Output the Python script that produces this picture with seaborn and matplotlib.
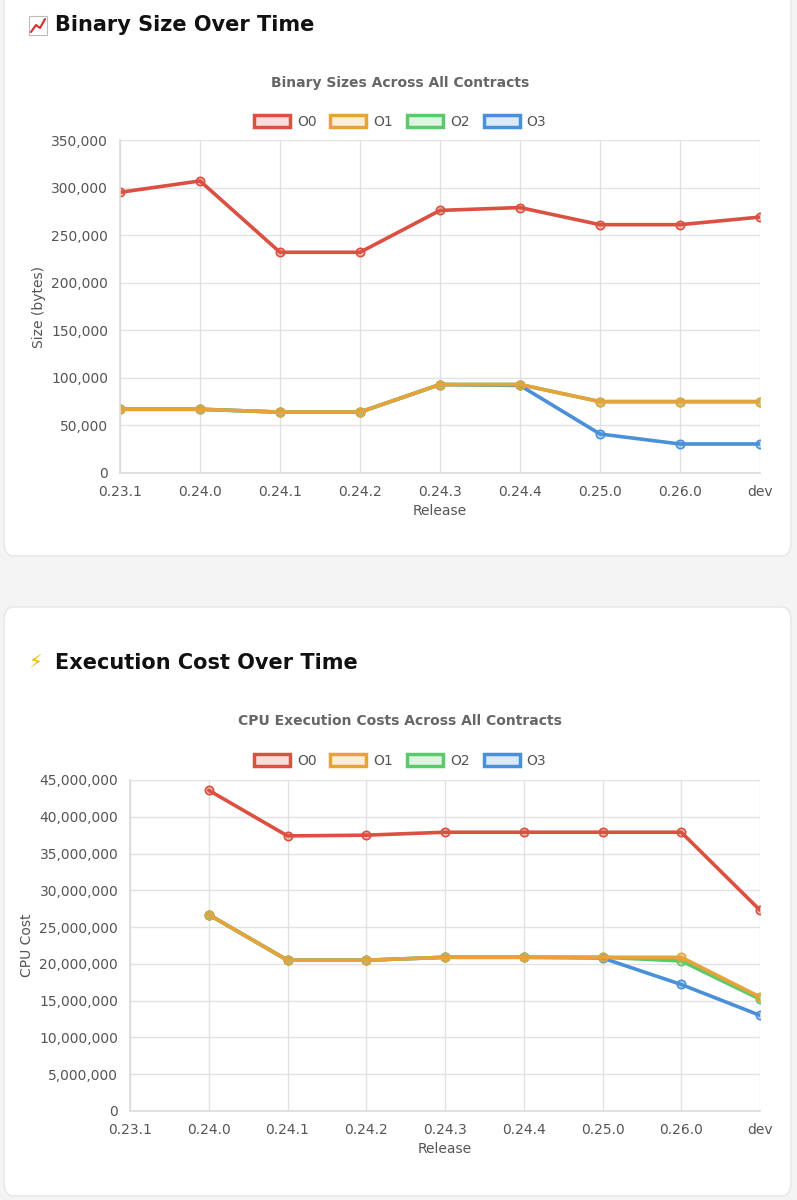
import matplotlib
matplotlib.use("Agg")
import matplotlib.pyplot as plt
import seaborn as sns
import pandas as pd
import numpy as np
from matplotlib.patches import FancyBboxPatch, Patch, Rectangle
from matplotlib.lines import Line2D
from matplotlib.ticker import FuncFormatter, MultipleLocator

releases = ["0.23.1", "0.24.0", "0.24.1", "0.24.2", "0.24.3", "0.24.4", "0.25.0", "0.26.0", "dev"]
levels = ["O0", "O1", "O2", "O3"]
size_O0 = [295000, 307000, 232000, 232000, 276000, 279000, 261000, 261000, 269000]
size_O1 = [67000, 67000, 64000, 64000, 93000, 93000, 75000, 75000, 75000]
size_O2 = [67000, 67000, 64000, 64000, 93000, 93000, 75000, 75000, 75000]
size_O3 = [67000, 67000, 64000, 64000, 93000, 92000, 41000, 30500, 30500]
cpu_O0 = [np.nan, 43600000, 37400000, 37500000, 37900000, 37900000, 37900000, 37900000, 27300000]
cpu_O1 = [np.nan, 26700000, 20500000, 20500000, 20900000, 20900000, 20900000, 20900000, 15500000]
cpu_O2 = [np.nan, 26700000, 20500000, 20500000, 20900000, 20900000, 20900000, 20400000, 15200000]
cpu_O3 = [np.nan, 26700000, 20500000, 20500000, 20900000, 20900000, 20800000, 17200000, 13000000]
colors = {"O0": "#db5040", "O1": "#e8a23a", "O2": "#5cc96a", "O3": "#4a90d9"}

sns.set_theme(style="whitegrid")
plt.rcParams["font.family"] = ["DejaVu Sans"]
W, H = 797, 1200
fig = plt.figure(figsize=(W/100, H/100), dpi=100)
fig.patch.set_facecolor("#f4f4f4")

def card(y0, y1):
    p = FancyBboxPatch((4/W, 1-y1/H), (W-10)/W, (y1-y0)/H,
                       boxstyle="round,pad=0,rounding_size=0.012",
                       transform=fig.transFigure, facecolor="white", edgecolor="#e6e6e6", lw=1, zorder=-10)
    fig.patches.append(p)
card(-20, 556)
card(607, 1196)

# chart-up icon drawn as shapes (emoji glyph not available in installed fonts)
fig.patches.append(Rectangle((29/W, 1-35/H), 18/W, 19/H, transform=fig.transFigure,
                             facecolor="white", edgecolor="#bbb", lw=0.8, zorder=1))
fig.lines.append(Line2D([31/W, 36/W, 40/W, 45/W], [1-32/H, 1-25/H, 1-28/H, 1-19/H],
                        transform=fig.transFigure, color="#d03030", lw=1.5, zorder=2))
fig.text(55/W, 1-25/H, "Binary Size Over Time", fontsize=15, fontweight="bold", va="center", color="#111")
fig.text(28/W, 1-663/H, "⚡", fontsize=14, va="center", color="#f0b400", family=["DejaVu Sans"])
fig.text(55/W, 1-663/H, "Execution Cost Over Time", fontsize=15, fontweight="bold", va="center", color="#111")

def make(ax_box, series, title, ylabel, ymax, step, title_y, leg_y):
    l, t, r, b = ax_box
    ax = fig.add_axes([l/W, 1-b/H, (r-l)/W, (b-t)/H])
    rows = []
    for lv, vals in zip(levels, series):
        for rel, v in zip(releases, vals):
            rows.append({"Release": rel, "Level": lv, "Value": v})
    df = pd.DataFrame(rows)
    df["x"] = df["Release"].map({r_: i for i, r_ in enumerate(releases)})
    for lv in ["O3", "O2", "O1", "O0"]:
        d = df[df.Level == lv].dropna()
        sns.lineplot(data=d, x="x", y="Value", ax=ax, color=colors[lv], lw=2.6, legend=False,
                     marker="o", markersize=6, markerfacecolor=colors[lv] + "55",
                     markeredgecolor=colors[lv], markeredgewidth=1.2)
    ax.set_xlim(0, len(releases)-1)
    ax.set_ylim(0, ymax)
    ax.yaxis.set_major_locator(MultipleLocator(step))
    ax.yaxis.set_major_formatter(FuncFormatter(lambda v, p: f"{int(v):,}"))
    ax.set_xticks(range(len(releases)))
    ax.set_xticklabels(releases)
    ax.tick_params(labelsize=10, colors="#555", length=5, color="#ddd")
    ax.grid(True, color="#e2e2e2", lw=1)
    for s in ax.spines.values():
        s.set_visible(False)
    ax.spines["left"].set_visible(True); ax.spines["left"].set_color("#ddd")
    ax.spines["bottom"].set_visible(True); ax.spines["bottom"].set_color("#ddd")
    ax.set_xlabel("Release", fontsize=10, color="#555")
    ax.set_ylabel(ylabel, fontsize=10, color="#555")
    ax.set_facecolor("white")
    fig.text(400/W, 1-title_y/H, title, ha="center", va="center", fontsize=10, fontweight="bold", color="#666")
    handles = [Patch(facecolor=colors[lv] + "30", edgecolor=colors[lv], lw=2.5, label=lv) for lv in levels]
    fig.legend(handles=handles, loc="center", bbox_to_anchor=(400/W, 1-leg_y/H), ncol=4, frameon=False,
               fontsize=10, handlelength=2.6, handleheight=0.9, columnspacing=1.0, handletextpad=0.5,
               labelcolor="#555")
    return ax

make((120, 140, 760, 473), [size_O0, size_O1, size_O2, size_O3], "Binary Sizes Across All Contracts",
     "Size (bytes)", 350000, 50000, 83, 122)
make((130, 780, 760, 1111), [cpu_O0, cpu_O1, cpu_O2, cpu_O3], "CPU Execution Costs Across All Contracts",
     "CPU Cost", 45000000, 5000000, 721, 761)

fig.savefig("out.png", dpi=100, facecolor=fig.get_facecolor())
